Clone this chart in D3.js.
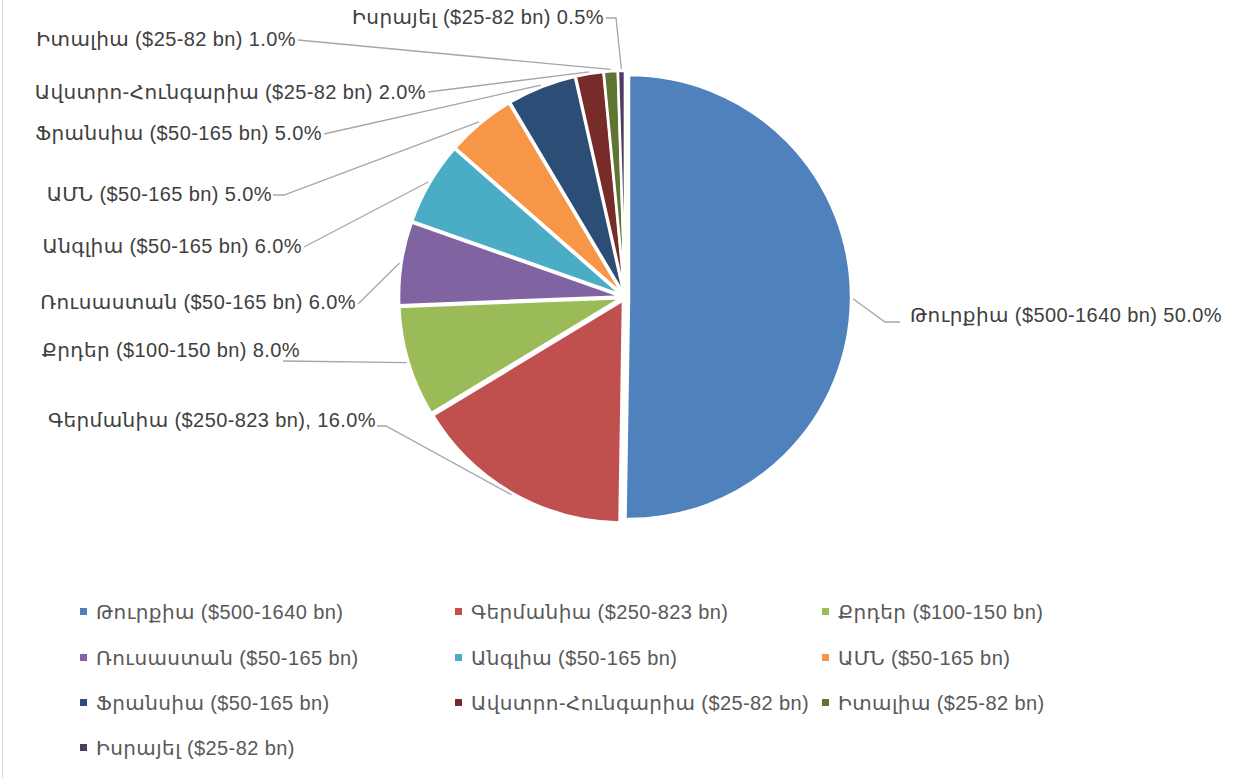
<!DOCTYPE html>
<html>
<head>
<meta charset="utf-8">
<script src="https://cdn.jsdelivr.net/npm/d3@7"></script>
<style>
  body { margin: 0; background: #fff; }
  text { font-family: "Liberation Sans", "DejaVu Sans", sans-serif; letter-spacing: 0.4px; }
</style>
</head>
<body>
<script>
var width = 1247,
  height = 778;

// data
var countries = [
  "Թուրքիա", "Գերմանիա", "Քրդեր", "Ռուսաստան", "Անգլիա",
  "ԱՄՆ", "Ֆրանսիա", "Ավստրո-Հունգարիա", "Իտալիա", "Իսրայել"
];
var ranges = [
  "$500-1640 bn", "$250-823 bn", "$100-150 bn", "$50-165 bn", "$50-165 bn",
  "$50-165 bn", "$50-165 bn", "$25-82 bn", "$25-82 bn", "$25-82 bn"
];
var shares = [50, 16, 8, 6, 6, 5, 5, 2, 1, 0.5];
var colors = [
  "#4F81BD", "#C0504D", "#9BBB59", "#8064A2", "#4BACC6",
  "#F79646", "#2C4D75", "#772C2A", "#5F7530", "#4D3B62"
];

// label placement (layout only): text edge x, text middle y, leader tail points
var labelLayout = [
  { x: 910, y: 315, anchor: "start", tail: [[885, 322], [900, 322]] },
  { x: 376, y: 420, anchor: "end", tail: [[386, 426], [377, 426]] },
  { x: 300, y: 350, anchor: "end", tail: [[283, 361]] },
  { x: 356, y: 302, anchor: "end", tail: [[358, 304]] },
  { x: 302, y: 246, anchor: "end", tail: [[304, 247]] },
  { x: 272, y: 194, anchor: "end", tail: [[284, 195], [273, 195]] },
  { x: 322, y: 133, anchor: "end", tail: [[324, 134]] },
  { x: 426, y: 92, anchor: "end", tail: [[428, 92]] },
  { x: 296, y: 39, anchor: "end", tail: [[298, 40]] },
  { x: 604, y: 17, anchor: "end", tail: [[616, 18], [606, 18]] }
];

var rows = countries.map(function (c, i) {
  return { name: c + " (" + ranges[i] + ")", value: shares[i], color: colors[i], i: i };
});

var svg = d3.select("body").append("svg")
  .attr("width", width)
  .attr("height", height);

// chart area border
svg.append("rect")
  .attr("x", 2.5).attr("y", -10)
  .attr("width", width + 20).attr("height", height + 20)
  .attr("fill", "none")
  .attr("stroke", "#D9D9D9");

var cx = 625,
  cy = 297,
  radius = 222,
  explode = 4;

var pie = d3.pie().sort(null).value(function (d) { return d.value; });
var arcs = pie(rows);
var arc = d3.arc().innerRadius(0).outerRadius(radius);

var g = svg.append("g").attr("transform", "translate(" + cx + "," + cy + ")");

function midAngle(d) { return (d.startAngle + d.endAngle) / 2; }

g.selectAll("path.slice")
  .data(arcs)
  .join("path")
  .attr("class", "slice")
  .attr("d", arc)
  .attr("fill", function (d) { return d.data.color; })
  .attr("stroke", "#fff")
  .attr("stroke-width", 2.5)
  .attr("transform", function (d) {
    var a = midAngle(d);
    return "translate(" + explode * Math.sin(a) + "," + (-explode * Math.cos(a)) + ")";
  });

// leader lines
var line = d3.line();
svg.selectAll("path.leader")
  .data(arcs)
  .join("path")
  .attr("class", "leader")
  .attr("fill", "none")
  .attr("stroke", "#A6A6A6")
  .attr("stroke-width", 1.3)
  .attr("d", function (d, i) {
    var a = midAngle(d),
      r = radius + explode + 2;
    var p = [cx + r * Math.sin(a), cy - r * Math.cos(a)];
    return line([p].concat(labelLayout[i].tail));
  });

svg.selectAll("text.label")
  .data(arcs)
  .join("text")
  .attr("class", "label")
  .attr("x", function (d, i) { return labelLayout[i].x; })
  .attr("y", function (d, i) { return labelLayout[i].y; })
  .attr("dy", "0.35em")
  .attr("text-anchor", function (d, i) { return labelLayout[i].anchor; })
  .attr("fill", "#404040")
  .style("font-size", "20px")
  .text(function (d) {
    var sep = d.data.i === 1 ? ", " : " ";
    return d.data.name + sep + d3.format(".1f")(d.data.value) + "%";
  });

// legend
var legendCols = [80, 455, 822],
  legendRows = [612, 658, 703, 748];

var legend = svg.selectAll("g.legend")
  .data(rows)
  .join("g")
  .attr("class", "legend")
  .attr("transform", function (d, i) {
    return "translate(" + legendCols[i % 3] + "," + legendRows[Math.floor(i / 3)] + ")";
  });

legend.append("rect")
  .attr("x", 0).attr("y", -4)
  .attr("width", 7).attr("height", 7)
  .attr("fill", function (d) { return d.color; });

legend.append("text")
  .attr("x", 16)
  .attr("y", 0)
  .attr("dy", "0.35em")
  .attr("fill", "#595959")
  .style("font-size", "20px")
  .text(function (d) { return d.name; });
</script>
</body>
</html>
